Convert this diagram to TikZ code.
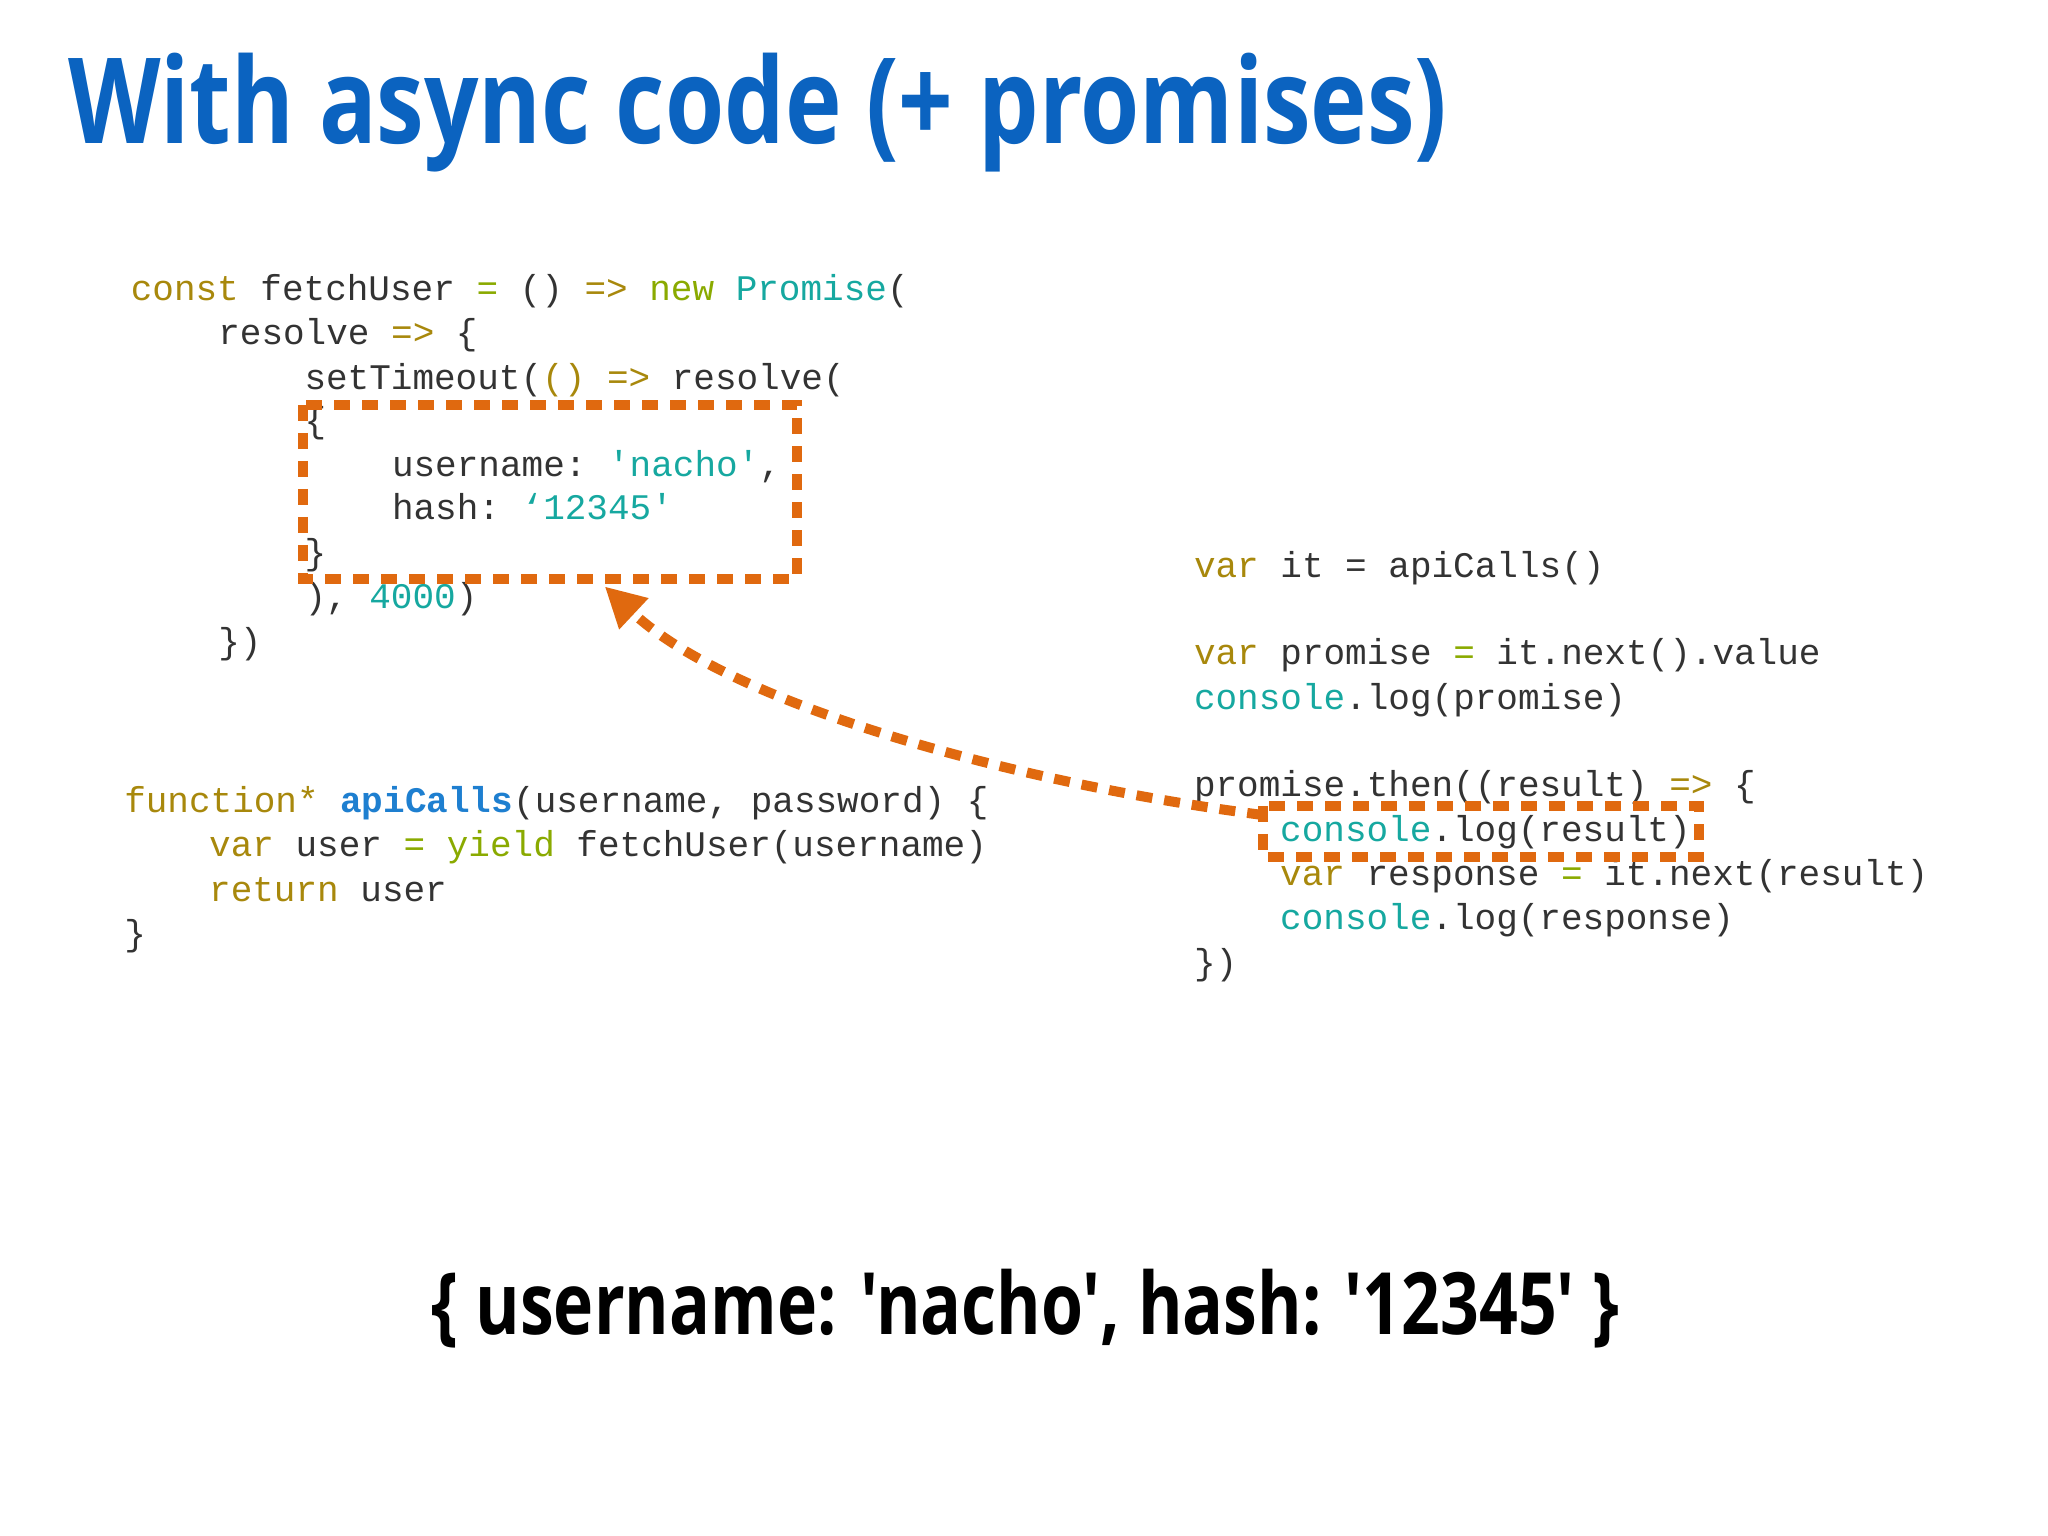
\documentclass[tikz,border=0pt]{standalone}
\usepackage{fontspec}
\setmonofont{Liberation Mono}
\newfontfamily\titlefont{Open Sans}
\usetikzlibrary{arrows.meta}
\definecolor{kw}{HTML}{A8880C}
\definecolor{gr}{HTML}{8AAA00}
\definecolor{tl}{HTML}{16A8A0}
\definecolor{tx}{HTML}{333333}
\definecolor{bl}{HTML}{1E7FD0}
\definecolor{ttl}{HTML}{0B63C0}
\definecolor{org}{HTML}{E0690F}
\newcommand{\K}[1]{\textcolor{kw}{#1}}
\newcommand{\G}[1]{\textcolor{gr}{#1}}
\newcommand{\T}[1]{\textcolor{tl}{#1}}
\tikzset{code/.style={anchor=base west,inner sep=0pt,font=\fontsize{36}{40}\ttfamily,text=tx},
  hl/.style={draw=org,line width=10pt,dash pattern=on 16pt off 12pt}}
\begin{document}
\begin{tikzpicture}[x=1.306pt,y=-1.306pt]
\useasboundingbox (0,0) rectangle (1568,1176);
\fill[white] (0,0) rectangle (1568,1176);
\node[anchor=base west,inner sep=0pt,text=ttl] (title) at (52,110) {\resizebox{1379pt}{\height}{\titlefont\bfseries\fontsize{119}{130}\selectfont With async code (+ promises)}};
% block 1
\node[code] (a1) at (100,230) {\K{const} fetchUser \G{=} () \K{=>} \G{new} \T{Promise}(};
\node[code] (a2) at (167,264) {resolve \K{=>} \{};
\node[code] (a3) at (233,298) {setTimeout(\K{()} \K{=>} resolve(};
\node[code] (a4) at (233,331) {\{};
\node[code] (a5) at (300,365) {username: \T{'nacho'},};
\node[code] (a6) at (300,398) {hash: \T{‘12345'}};
\node[code] (a7) at (233,432) {\}};
\node[code] (a8) at (233,466) {), \T{4000})};
\node[code] (a9) at (167,500) {\})};
% block 2
\node[code] (b1) at (95,622) {\K{function*} \textcolor{bl}{\bfseries apiCalls}(username, password) \{};
\node[code] (b2) at (160,656) {\K{var} user \G{=} \G{yield} fetchUser(username)};
\node[code] (b3) at (160,690) {\K{return} user};
\node[code] (b4) at (95,724) {\}};
% right block
\node[code] (c1) at (914,442) {\K{var} it = apiCalls()};
\node[code] (c2) at (914,509) {\K{var} promise \G{=} it.next().value};
\node[code] (c3) at (914,543) {\T{console}.log(promise)};
\node[code] (c4) at (914,610) {promise.then((result) \K{=>} \{};
\node[code] (c5) at (980,644) {\T{console}.log(result)};
\node[code] (c6) at (980,678) {\K{var} response \G{=} it.next(result)};
\node[code] (c7) at (980,712) {\T{console}.log(response)};
\node[code] (c8) at (914,746) {\})};
% highlights
\draw[hl] (232,310) rectangle (610,443);
\draw[hl] (967,617) rectangle (1301,656);
\coordinate (s) at (967,624);
\coordinate (t) at (463,449);
\draw[org,line width=10pt,dash pattern=on 16pt off 12pt,-{Triangle[length=40pt,width=40pt]}]
  (s) .. controls (780,600) and (560,540) .. (t);
\node[anchor=base,inner sep=0pt] (res) at (785,1022) {\resizebox{1188pt}{\height}{\titlefont\bfseries\fontsize{86}{95}\selectfont \{ username: 'nacho', hash: '12345' \}}};
\end{tikzpicture}
\end{document}
